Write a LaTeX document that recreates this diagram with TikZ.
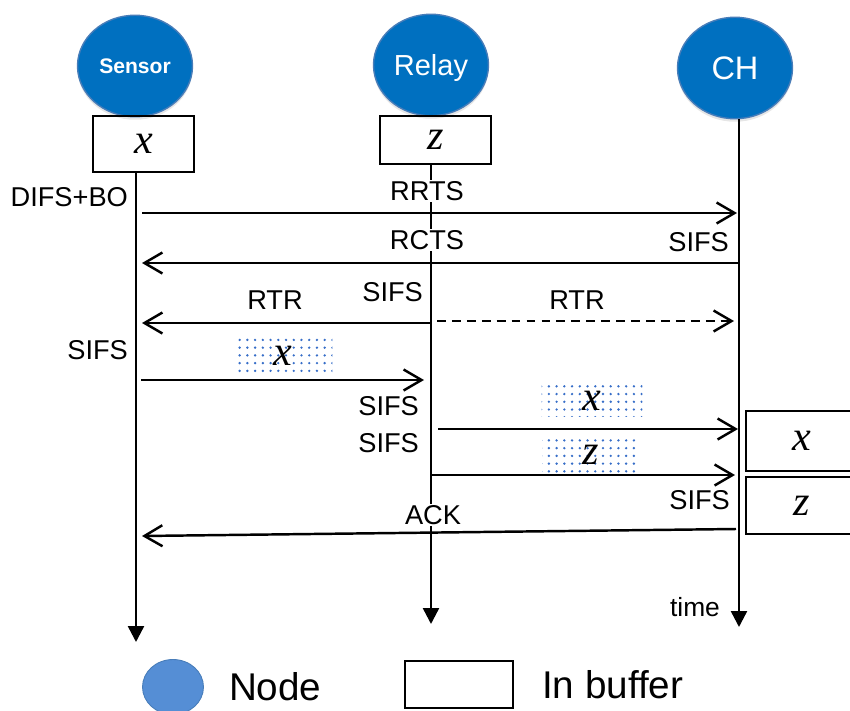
\documentclass[tikz,border=0pt]{standalone}
\usepackage{fontspec}
\setmainfont{Liberation Sans}
\newfontfamily\varfont{Liberation Serif}
\usetikzlibrary{positioning,arrows.meta,shapes.geometric,shadows,patterns.meta}
\definecolor{nodeblue}{RGB}{0,112,192}
\definecolor{nodeedge}{RGB}{72,125,185}
\definecolor{legendblue}{RGB}{85,142,213}
\definecolor{dotblue}{RGB}{55,110,200}
\newcommand{\bufvar}[1]{{\varfont\itshape #1}}

\begin{document}
\begin{tikzpicture}[
  x=0.02cm, y=-0.02cm,
  peer/.style={ellipse, fill=nodeblue, draw=nodeedge, line width=0.8pt,
               minimum width=2.3cm, minimum height=2.03cm, text=white, inner sep=0pt,
               text depth=0pt,
               drop shadow={shadow xshift=0pt, shadow yshift=-0.6mm, opacity=0.2}},
  legnode/.style={ellipse, fill=legendblue, draw=nodeedge, line width=0.5pt,
                  minimum width=1.22cm, minimum height=1.1cm},
  buffer/.style={rectangle, draw=black, line width=1.3pt, inner sep=0pt,
                 font=\fontsize{24}{26}\selectfont},
  packet/.style={rectangle, pattern={Dots[distance=4.4pt,radius=0.75pt]},
                 pattern color=dotblue, inner sep=0pt, font=\fontsize{24}{26}\selectfont},
  lifeline/.style={line width=1.4pt, -{Triangle[length=0.32cm,width=0.32cm]}},
  msg/.style={line width=1.4pt, -{Straight Barb[length=0.36cm,width=0.42cm]}},
  lbl/.style={font=\fontsize{15.5}{17}\selectfont, inner sep=1pt},
  cover/.style={lbl, fill=white},
  legtxt/.style={font=\fontsize{22}{24}\selectfont, inner sep=1pt}
]
\useasboundingbox (0,0) rectangle (850,711);

% nodes and their buffers
\node[peer, font=\bfseries\fontsize{12}{14}\selectfont] (sensor) at (135,66) {Sensor};
\node[peer, font=\fontsize{16.5}{18}\selectfont] (relay) at (431,65) {Relay};
\node[peer, font=\fontsize{18.5}{20}\selectfont] (ch) at (735,68) {CH};
\node[buffer, minimum width=2.02cm, minimum height=1.12cm] (sbuf) at (143.5,144) {\bufvar{x}};
\node[buffer, minimum width=2.22cm, minimum height=0.96cm] (rbuf) at (435.5,140) {\bufvar{z}};

% time lines
\coordinate (send) at (136,642);
\coordinate (rend) at (431,624);
\coordinate (cend) at (739,627);
\draw[lifeline] (sbuf.south -| send) -- (send);
\draw[lifeline] (rbuf.south -| rend) -- (rend);
\draw[lifeline] (ch.south -| cend) -- (cend);

% labels
\node[lbl, anchor=east] (difs) at (130,197) {DIFS+BO};
\node[cover] (rrts) at (427,191) {RRTS};
\node[cover] (rcts) at (427,240) {RCTS};
\node[lbl, anchor=east] (sifsa) at (731,242) {SIFS};
\node[lbl, anchor=east] (sifsb) at (425,292) {SIFS};
\node[lbl] (rtra) at (275,300) {RTR};
\node[lbl] (rtrb) at (577,300) {RTR};
\node[lbl, anchor=east] (sifsc) at (130,350) {SIFS};
\node[lbl, anchor=east] (sifsd) at (421,406) {SIFS};
\node[lbl, anchor=east] (sifse) at (421,443) {SIFS};
\node[lbl, anchor=east] (sifsf) at (732,500) {SIFS};
\node[cover] (ack) at (433,515) {ACK};
\node[lbl, font=\fontsize{15}{17}\selectfont, anchor=east] (time) at (722,607) {time};

% data packets
\node[packet, minimum width=1.98cm, minimum height=0.7cm] (pkta) at (283,356) {\bufvar{x}};
\node[packet, minimum width=2.02cm, minimum height=0.62cm] (pktb) at (592,401) {\bufvar{x}};
\node[packet, minimum width=1.96cm, minimum height=0.74cm] (pktc) at (591,455) {\bufvar{z}};

% buffer at CH
\node[buffer, minimum width=2.24cm, minimum height=1.2cm] (cbufx) at (802,441) {\bufvar{x}};
\node[buffer, minimum width=2.24cm, minimum height=1.14cm] (cbufz) at (802,505.5) {\bufvar{z}};

% messages
\coordinate (rrtsS) at (142,213);  \coordinate (rrtsC) at (737,213);
\coordinate (rctsC) at (738,263);  \coordinate (rctsS) at (142,263);
\coordinate (rtrR) at (430,323);   \coordinate (rtrS) at (142,323);
\coordinate (rtrRb) at (437,321);  \coordinate (rtrC) at (734,321);
\coordinate (datS) at (141,380);   \coordinate (datR) at (424,380);
\coordinate (fwdxR) at (438,429);  \coordinate (fwdxC) at (738,429);
\coordinate (fwdzR) at (431,475);  \coordinate (fwdzC) at (735,475);
\coordinate (ackC) at (736,529);   \coordinate (ackS) at (142,536);
\draw[msg] (rrtsS) -- (rrtsC);
\draw[msg] (rctsC) -- (rctsS);
\draw[msg] (rtrR) -- (rtrS);
\draw[msg, dash pattern=on 5pt off 3.5pt] (rtrRb) -- (rtrC);
\draw[msg] (datS) -- (datR);
\draw[msg] (fwdxR) -- (fwdxC);
\draw[msg] (fwdzR) -- (fwdzC);
\draw[msg] (ackC) -- (ackS);

% legend
\node[legnode] (legpeer) at (173,687) {};
\node[legtxt, right=0.46cm of legpeer] (legpeertxt) {Node};
\node[buffer, minimum width=2.16cm, minimum height=0.94cm] (legbuf) at (459,684.5) {};
\node[legtxt, right=0.52cm of legbuf] (legbuftxt) {In buffer};
\end{tikzpicture}
\end{document}
